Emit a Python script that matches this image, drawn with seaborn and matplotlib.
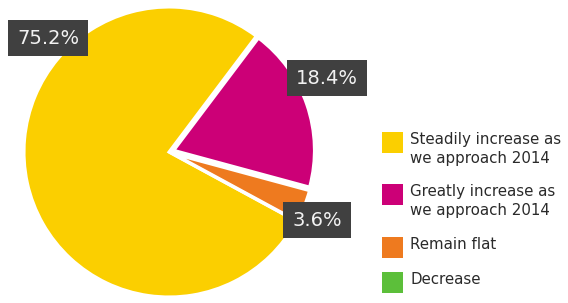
import matplotlib
matplotlib.use('Agg')
import matplotlib.pyplot as plt
from matplotlib.patches import Rectangle
import seaborn as sns

# Chart data
categories = ['Steadily increase as\nwe approach 2014',
              'Greatly increase as\nwe approach 2014',
              'Remain flat',
              'Decrease']
shares = [75.2, 18.4, 3.6, 0.0]
colors = ['#FBCF00', '#CC0077', '#EE7A1F', '#5CBF3A']

sns.set_theme(style='white')
plt.rcParams['font.family'] = ['DejaVu Sans']

W, H = 568, 303
fig = plt.figure(figsize=(W / 100, H / 100), dpi=100)
fig.patch.set_facecolor('white')

# pie axes: centre (169, 152) px from top-left, radius 145 px
cx, cy, r, half = 169, 152, 145, 150
ax = fig.add_axes([(cx - half) / W, (H - cy - half) / H, 2 * half / W, 2 * half / H])
total = sum(shares)
wedges, _ = ax.pie(shares, colors=colors, counterclock=False,
                   startangle=53 + 360 * shares[0] / total,
                   explode=[0, 0.035, 0.035, 0],
                   wedgeprops=dict(edgecolor='white', linewidth=2.2))
for w in wedges[1:3]:
    w.set_radius(0.97)
lim = half / r
ax.set_xlim(-lim, lim)
ax.set_ylim(-lim, lim)
ax.set_aspect('equal')
ax.axis('off')

# percentage call-outs (pixel centres of the boxes)
label_pos = [(48, 38), (327, 78), (317, 220)]
for (px, py), v in zip(label_pos, shares):
    fig.text(px / W, 1 - py / H, f'{v:.1f}%', ha='center', va='center',
             fontsize=14, color='#f2f2f2',
             bbox=dict(boxstyle='square,pad=0.45', facecolor='#404040',
                       edgecolor='none'))

# legend
square_tops = [132, 184, 237, 272]
for top, lab, c in zip(square_tops, categories, colors):
    fig.add_artist(Rectangle((382 / W, 1 - (top + 21) / H), 21 / W, 21 / H,
                             transform=fig.transFigure, facecolor=c,
                             edgecolor='none'))
    fig.text(410 / W, 1 - top / H, lab, ha='left', va='top',
             fontsize=10.8, color='#2a2a2a', linespacing=1.35)

fig.savefig('out.png', dpi=100)
